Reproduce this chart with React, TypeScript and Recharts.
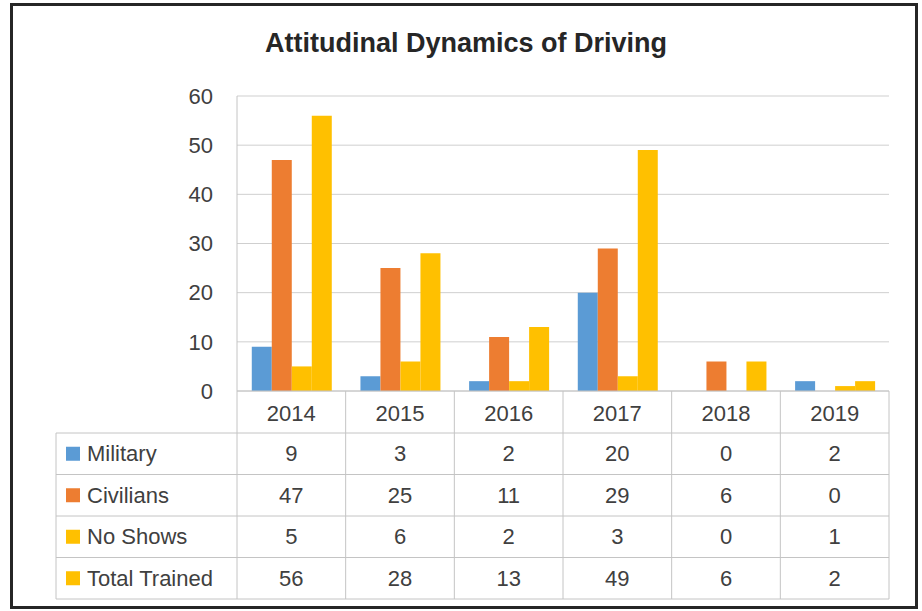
import React from "react";
import { BarChart, Bar, XAxis, YAxis, CartesianGrid } from "recharts";

const years = ["2014", "2015", "2016", "2017", "2018", "2019"];
const military = [9, 3, 2, 20, 0, 2];
const civilians = [47, 25, 11, 29, 6, 0];
const noShows = [5, 6, 2, 3, 0, 1];
const totalTrained = [56, 28, 13, 49, 6, 2];
const yTicks = [0, 10, 20, 30, 40, 50, 60];

const series = [
  { key: "military", name: "Military", color: "#5B9BD5", values: military },
  { key: "civilians", name: "Civilians", color: "#ED7D31", values: civilians },
  { key: "noShows", name: "No Shows", color: "#FFC000", values: noShows },
  { key: "totalTrained", name: "Total Trained", color: "#FFC000", values: totalTrained },
];

const data = years.map((year, i) => {
  const row: Record<string, string | number> = { year };
  series.forEach((s) => (row[s.key] = s.values[i]));
  return row;
});

// layout
const W = 922;
const H = 611;
const plotLeft = 237;
const plotRight = 889;
const plotTop = 96;
const plotBottom = 391;
const headerH = 42;
const tableLeft = 56;
const rowH = 41.5;
const font = "'Liberation Sans', Arial, sans-serif";
const textColor = "#404040";
const lineColor = "#c4c4c4";

function DataTable() {
  const colW = (plotRight - plotLeft) / years.length;
  const cols = years.map((_, i) => plotLeft + i * colW);
  const tableTop = plotBottom + headerH;
  const tableBottom = tableTop + rowH * series.length;
  return (
    <svg
      width={W}
      height={H}
      style={{ position: "absolute", left: 0, top: 0, pointerEvents: "none" }}
    >
      {/* column lines */}
      {[...cols, plotRight].map((x, i) => (
        <line key={`v${i}`} x1={x} x2={x} y1={plotBottom} y2={tableBottom} stroke={lineColor} />
      ))}
      <line x1={tableLeft} x2={tableLeft} y1={tableTop} y2={tableBottom} stroke={lineColor} />
      {/* row lines */}
      {series.map((_, r) => (
        <line
          key={`h${r}`}
          x1={tableLeft}
          x2={plotRight}
          y1={tableTop + r * rowH}
          y2={tableTop + r * rowH}
          stroke={lineColor}
        />
      ))}
      <line x1={tableLeft} x2={plotRight} y1={tableBottom} y2={tableBottom} stroke={lineColor} />
      {series.map((s, r) => {
        const cy = tableTop + r * rowH + rowH / 2;
        return (
          <g key={s.key}>
            <rect x={66} y={cy - 7} width={14} height={14} fill={s.color} />
            <text
              x={87}
              y={cy}
              dominantBaseline="central"
              fontSize={22}
              fontFamily={font}
              fill={textColor}
            >
              {s.name}
            </text>
            {s.values.map((v, i) => (
              <text
                key={i}
                x={cols[i] + colW / 2}
                y={cy}
                textAnchor="middle"
                dominantBaseline="central"
                fontSize={22}
                fontFamily={font}
                fill={textColor}
              >
                {v}
              </text>
            ))}
          </g>
        );
      })}
    </svg>
  );
}

export default function App() {
  return (
    <div style={{ position: "absolute", left: 0, top: 0, width: W, height: H, background: "#fff" }}>
      <div
        style={{
          position: "absolute",
          left: 10,
          top: 3,
          width: 908,
          height: 606,
          border: "3px solid #262626",
          boxSizing: "border-box",
        }}
      />
      <div
        style={{
          position: "absolute",
          left: 10,
          width: 912,
          top: 28,
          textAlign: "center",
          fontFamily: font,
          fontWeight: "bold",
          fontSize: 27,
          color: "#262626",
        }}
      >
        Attitudinal Dynamics of Driving
      </div>
      <div style={{ position: "absolute", left: 0, top: 0 }}>
        <BarChart
          width={W}
          height={H}
          data={data}
          margin={{ top: plotTop, right: W - plotRight, bottom: H - plotBottom - headerH, left: plotLeft - 60 }}
          barGap={0}
          barCategoryGap="13.6%"
        >
          <CartesianGrid vertical={false} stroke="#cfcfcf" />
          <XAxis
            dataKey="year"
            height={headerH}
            axisLine={{ stroke: lineColor }}
            tickLine={false}
            tickMargin={8}
            tick={{ fill: textColor, fontSize: 22, fontFamily: font }}
          />
          <YAxis
            width={60}
            domain={[0, 60]}
            ticks={yTicks}
            axisLine={{ stroke: lineColor }}
            tickLine={false}
            tickMargin={18}
            tick={{ fill: textColor, fontSize: 22, fontFamily: font }}
          />
          {series.map((s) => (
            <Bar key={s.key} dataKey={s.key} name={s.name} fill={s.color} isAnimationActive={false} />
          ))}
        </BarChart>
      </div>
      <DataTable />
    </div>
  );
}
